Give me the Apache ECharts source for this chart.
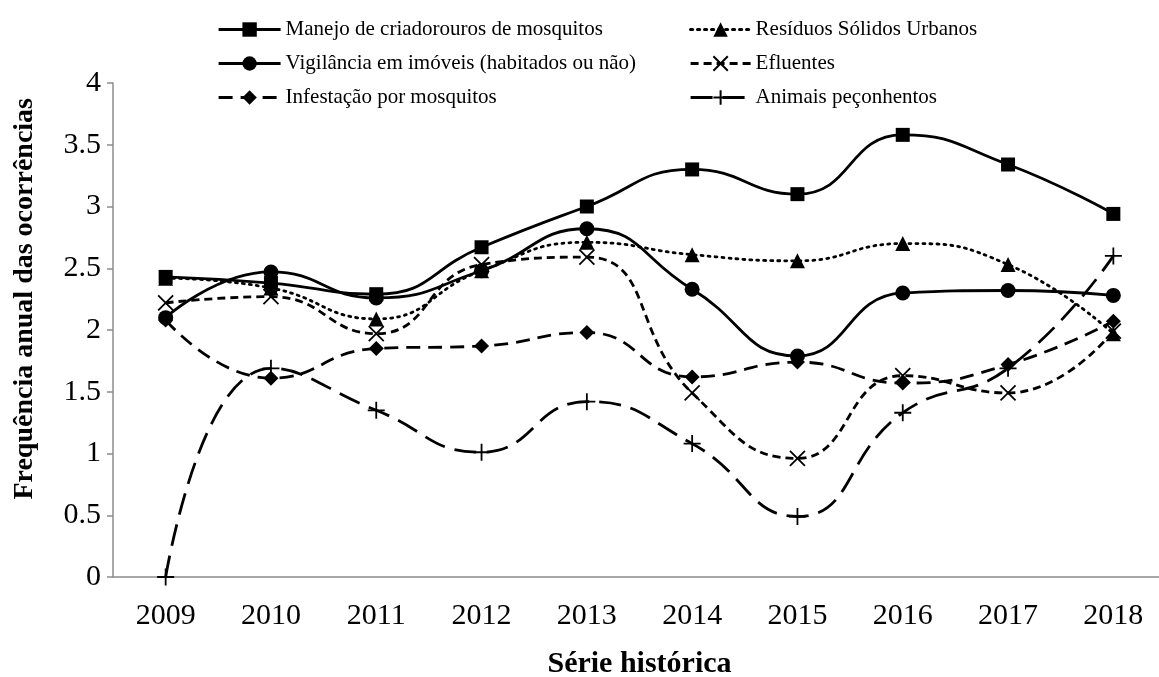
<!DOCTYPE html>
<html>
<head>
<meta charset="utf-8">
<script src="https://cdn.jsdelivr.net/npm/echarts@6/dist/echarts.min.js"></script>
<style>
html,body{margin:0;padding:0;background:#fff;}
#chart{width:1159px;height:677px;}
</style>
</head>
<body>
<div id="chart"></div>
<script>
const years = ['2009','2010','2011','2012','2013','2014','2015','2016','2017','2018'];
const manejo = [2.43, 2.38, 2.29, 2.67, 3.00, 3.30, 3.10, 3.58, 3.34, 2.94];
const residuos = [2.42, 2.34, 2.09, 2.48, 2.71, 2.61, 2.56, 2.70, 2.53, 1.97];
const vigilancia = [2.10, 2.47, 2.26, 2.48, 2.82, 2.33, 1.79, 2.30, 2.32, 2.28];
const efluentes = [2.22, 2.27, 1.97, 2.53, 2.59, 1.49, 0.96, 1.63, 1.49, 1.99];
const infestacao = [2.08, 1.61, 1.85, 1.87, 1.98, 1.62, 1.74, 1.57, 1.72, 2.07];
const animais = [0.00, 1.69, 1.35, 1.01, 1.42, 1.08, 0.49, 1.33, 1.69, 2.60];
const yTicks = {min: 0, max: 4, interval: 0.5};

const names = [
  'Manejo de criadorouros de mosquitos',
  'Resíduos Sólidos Urbanos',
  'Vigilância em imóveis (habitados ou não)',
  'Efluentes',
  'Infestação por mosquitos',
  'Animais peçonhentos'
];
const yTitle = 'Frequência anual das ocorrências';
const xTitle = 'Série histórica';

const FONT = '"Liberation Serif", "Times New Roman", serif';
const X_PATH = 'path://M0,0L10,10M10,0L0,10';
const PLUS_PATH = 'path://M5,0L5,10M0,5L10,5';

function mk(name, data, symbol, size, dash, hollow) {
  return {
    name: name,
    type: 'line',
    data: data,
    smooth: 0.5,
    symbol: symbol,
    symbolSize: size,
    showAllSymbol: true,
    lineStyle: {color: '#000', width: 2.8, type: dash, cap: 'butt'},
    itemStyle: hollow
      ? {color: 'rgba(0,0,0,0)', borderColor: '#000', borderWidth: 1.8}
      : {color: '#000', borderWidth: 0},
    emphasis: {disabled: true},
    z: 2
  };
}

const series = [
  mk(names[0], manejo, 'rect', 14, 'solid', false),
  mk(names[1], residuos, 'triangle', 15, [2, 5], false),
  mk(names[2], vigilancia, 'circle', 15, 'solid', false),
  mk(names[3], efluentes, X_PATH, 15, [8, 5], true),
  mk(names[4], infestacao, 'diamond', 15, [14, 8], false),
  mk(names[5], animais, PLUS_PATH, 17, [22, 10], true)
];
series[1].lineStyle.cap = 'round';

const chart = echarts.init(document.getElementById('chart'), null, {renderer: 'canvas'});
const legendCommon = {
  orient: 'vertical',
  itemHeight: 18,
  itemGap: 13,
  textStyle: {fontFamily: FONT, fontSize: 21, color: '#000'},
  lineStyle: {width: 3.2},
  selectedMode: false
};
chart.setOption({
  backgroundColor: '#fff',
  animation: false,
  legend: [
    Object.assign({}, legendCommon, {left: 212, top: 14, itemWidth: 62, data: [names[0], names[2], names[4]]}),
    Object.assign({}, legendCommon, {left: 684, top: 14, itemWidth: 60, data: [names[1], names[3], names[5]]})
  ],
  graphic: [{
    type: 'text',
    left: 11,
    top: 98,
    rotation: Math.PI / 2,
    style: {text: yTitle, font: 'bold 28px ' + FONT, fill: '#000'}
  }],
  grid: {left: 113, top: 83, width: 1053, height: 494, containLabel: false, outerBoundsMode: 'none'},
  xAxis: {
    type: 'category',
    data: years,
    boundaryGap: true,
    name: xTitle,
    nameLocation: 'middle',
    nameGap: 72,
    nameTextStyle: {fontFamily: FONT, fontSize: 30, fontWeight: 'bold', color: '#000'},
    axisLine: {lineStyle: {color: '#8c8c8c', width: 1.5}},
    axisTick: {show: false},
    axisLabel: {fontFamily: FONT, fontSize: 30, color: '#000', margin: 24},
    splitLine: {show: false}
  },
  yAxis: {
    type: 'value',
    min: yTicks.min,
    max: yTicks.max,
    interval: yTicks.interval,
    axisLine: {show: true, lineStyle: {color: '#8c8c8c', width: 1.5}},
    axisTick: {show: true, length: 6, lineStyle: {color: '#8c8c8c', width: 1.5}},
    axisLabel: {fontFamily: FONT, fontSize: 30, color: '#000', margin: 12},
    splitLine: {show: false}
  },
  series: series
});
</script>
</body>
</html>
